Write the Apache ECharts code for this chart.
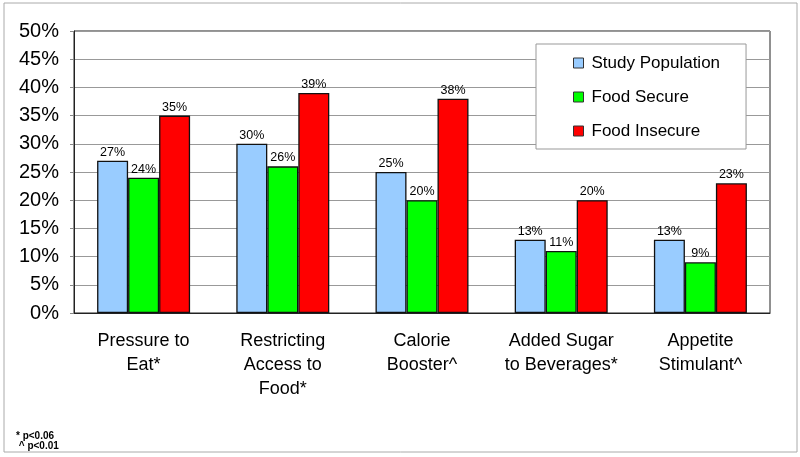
<!DOCTYPE html>
<html>
<head>
<meta charset="utf-8">
<script src="https://cdn.jsdelivr.net/npm/echarts@6/dist/echarts.min.js"></script>
<style>
  html, body { margin: 0; padding: 0; background: #fff; }
  #main { width: 800px; height: 457px; }
</style>
</head>
<body>
<div id="main"></div>
<script>
var categories = ['Pressure to\nEat*', 'Restricting\nAccess to\nFood*', 'Calorie\nBooster^', 'Added Sugar\nto Beverages*', 'Appetite\nStimulant^'];
var studyPopulation = [27, 30, 25, 13, 13];
var foodSecure = [24, 26, 20, 11, 9];
var foodInsecure = [35, 39, 38, 20, 23];

//bar series
function makeSeries(name, data, color) {
    return {
        name: name,
        type: 'bar',
        data: data,
        barWidth: 31,
        barGap: '0%',
        itemStyle: { color: color, borderColor: '#111', borderWidth: 1.3 },
        label: {
            show: true,
            position: 'top',
            distance: 2,
            formatter: '{c}%',
            fontFamily: 'Arial, Liberation Sans',
            fontSize: 12.5,
            color: '#000'
        }
    };
}

var dom = document.getElementById("main");
var myChart = echarts.init(dom);
var option = null;

option = {
    animation: false,
    textStyle: { fontFamily: 'Arial, Liberation Sans' },
    grid: {
        left: 74, right: 30, top: 31, bottom: 144,
        show: true, borderColor: '#222', borderWidth: 1
    },
    graphic: [{
        type: 'rect',
        shape: { x: 4, y: 3, width: 793, height: 449 },
        style: { fill: 'none', stroke: '#aaa', lineWidth: 1 },
        z: -1
    }, {
        type: 'text',
        left: 16, top: 431,
        style: {
            text: '* p<0.06\n ^ p<0.01',
            font: 'bold 10px Arial, Liberation Sans',
            lineHeight: 10,
            fill: '#000'
        }
    }],
    legend: {
        orient: 'vertical',
        left: 536, top: 44,
        padding: [9, 26, 8, 37],
        backgroundColor: '#fff',
        borderColor: '#999',
        borderWidth: 1,
        itemWidth: 10,
        itemHeight: 10,
        itemGap: 14,
        icon: 'rect',
        textStyle: { fontSize: 17, color: '#000', lineHeight: 20, padding: [0, 0, 0, 3] },
        itemStyle: { borderColor: '#333', borderWidth: 1 },
        data: ['Study Population', 'Food Secure', 'Food Insecure']
    },
    xAxis: {
        type: 'category',
        data: categories,
        axisLine: { lineStyle: { color: '#222' } },
        axisTick: { length: 5, lineStyle: { color: '#888' } },
        axisLabel: { interval: 0, fontSize: 18, color: '#000', lineHeight: 24, margin: 16 }
    },
    yAxis: {
        type: 'value',
        min: 0, max: 50, interval: 5,
        axisLine: { show: true, lineStyle: { color: '#222' } },
        axisTick: { show: true, length: 4, lineStyle: { color: '#888' } },
        axisLabel: { formatter: '{value}%', fontSize: 20, color: '#000', margin: 15 },
        splitLine: { lineStyle: { color: '#999' } }
    },
    series: [
        makeSeries('Study Population', studyPopulation, '#99CCFF'),
        makeSeries('Food Secure', foodSecure, '#00FF00'),
        makeSeries('Food Insecure', foodInsecure, '#FF0000')
    ]
};

if (option && typeof option === "object") {
    myChart.setOption(option, true);
}
</script>
</body>
</html>
